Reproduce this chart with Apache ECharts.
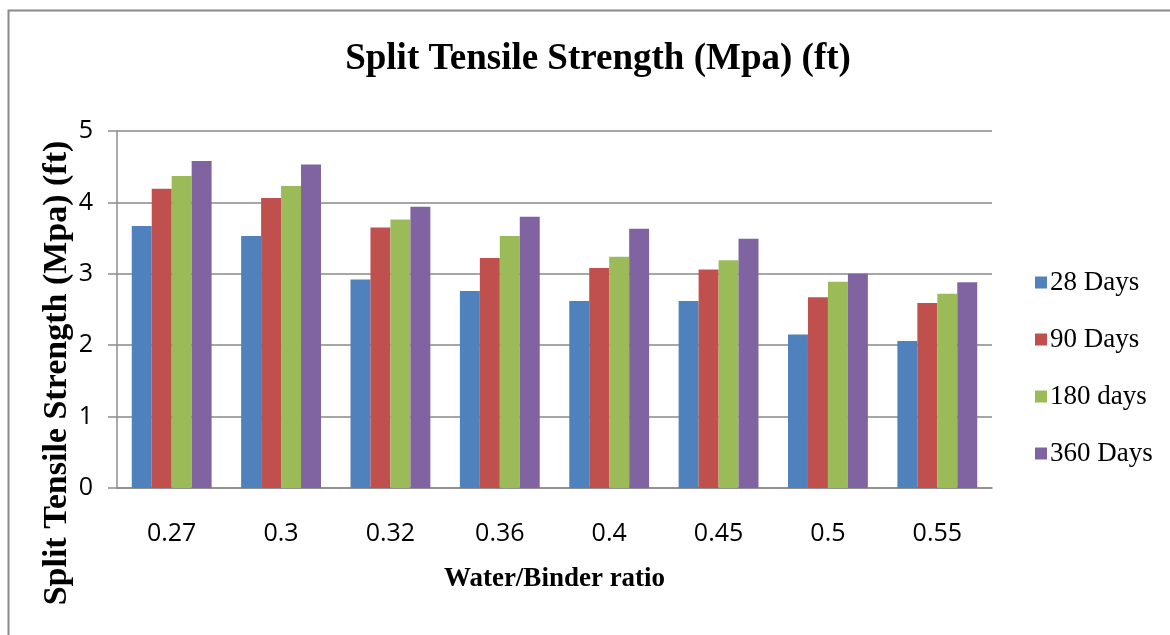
<!DOCTYPE html>
<html>
<head>
<meta charset="utf-8">
<script src="https://cdn.jsdelivr.net/npm/echarts@6/dist/echarts.min.js"></script>
<style>html,body{margin:0;padding:0;background:#fff;}#c{width:1170px;height:635px;}</style>
</head>
<body>
<div id="c"></div>
<script>
const categories = ['0.27', '0.3', '0.32', '0.36', '0.4', '0.45', '0.5', '0.55'];
const days28  = [3.67, 3.53, 2.92, 2.76, 2.62, 2.62, 2.15, 2.06];
const days90  = [4.19, 4.06, 3.65, 3.22, 3.08, 3.06, 2.67, 2.59];
const days180 = [4.37, 4.23, 3.76, 3.53, 3.24, 3.19, 2.89, 2.72];
const days360 = [4.58, 4.53, 3.94, 3.80, 3.63, 3.49, 3.00, 2.88];
const seriesNames = ['28 Days', '90 Days', '180 days', '360 Days'];
const yTicks = [0, 1, 2, 3, 4, 5];
const yAxisTitle = 'Split Tensile Strength (Mpa) (ft)';

const colors = ['#4F81BD', '#C0504D', '#9BBB59', '#8064A2'];
const serif = '"Liberation Serif", "Times New Roman", serif';
const sans = '"Open Sans", sans-serif';

const chart = echarts.init(document.getElementById('c'), null, {renderer: 'canvas'});
const seriesData = [days28, days90, days180, days360];
chart.setOption({
  animation: false,
  backgroundColor: '#ffffff',
  color: colors,
  title: {
    text: 'Split Tensile Strength (Mpa) (ft)',
    left: 593, top: 36, textAlign: 'center',
    textStyle: {fontFamily: serif, fontWeight: 'bold', fontSize: 37, color: '#000'}
  },
  graphic: [{
    type: 'rect', left: 6, top: 8, silent: true,
    shape: {width: 1200, height: 660},
    style: {fill: 'none', stroke: '#8a8a8a', lineWidth: 2}
  }, {
    type: 'text', x: 57, y: 373, rotation: Math.PI / 2, silent: true,
    style: {text: yAxisTitle, fontFamily: serif, fontWeight: 'bold', fontSize: 34,
      fill: '#000', textAlign: 'center', textVerticalAlign: 'middle'}
  }],
  legend: {
    orient: 'vertical', left: 1030, top: 264,
    itemWidth: 12, itemHeight: 12, itemGap: 30,
    icon: 'rect',
    textStyle: {fontFamily: serif, fontSize: 27, color: '#000', padding: [0, 0, 0, -2]},
    data: seriesNames
  },
  grid: {left: 117, right: 178, top: 131, bottom: 147},
  xAxis: {
    type: 'category', data: categories,
    name: 'Water/Binder ratio', nameLocation: 'middle', nameGap: 78,
    nameTextStyle: {fontFamily: serif, fontWeight: 'bold', fontSize: 27, color: '#000'},
    axisLine: {lineStyle: {color: '#8c8c8c', width: 1.5}},
    axisTick: {show: false},
    axisLabel: {fontFamily: sans, fontSize: 25, color: '#000', margin: 33}
  },
  yAxis: {
    type: 'value', min: 0, max: 5, interval: 1,
    axisLine: {show: true, lineStyle: {color: '#8c8c8c', width: 1.5}},
    axisTick: {show: true, length: 9, lineStyle: {color: '#8c8c8c', width: 1.5}},
    splitLine: {lineStyle: {color: '#a6a6a6', width: 2}},
    axisLabel: {fontFamily: sans, fontSize: 25, color: '#000', margin: 24,
      formatter: v => yTicks.includes(v) ? String(v) : ''}
  },
  series: seriesNames.map((n, i) => ({
    name: n, type: 'bar', data: seriesData[i],
    barGap: '0%', barCategoryGap: '27%',
    itemStyle: {color: colors[i]}
  }))
});
</script>
</body>
</html>
